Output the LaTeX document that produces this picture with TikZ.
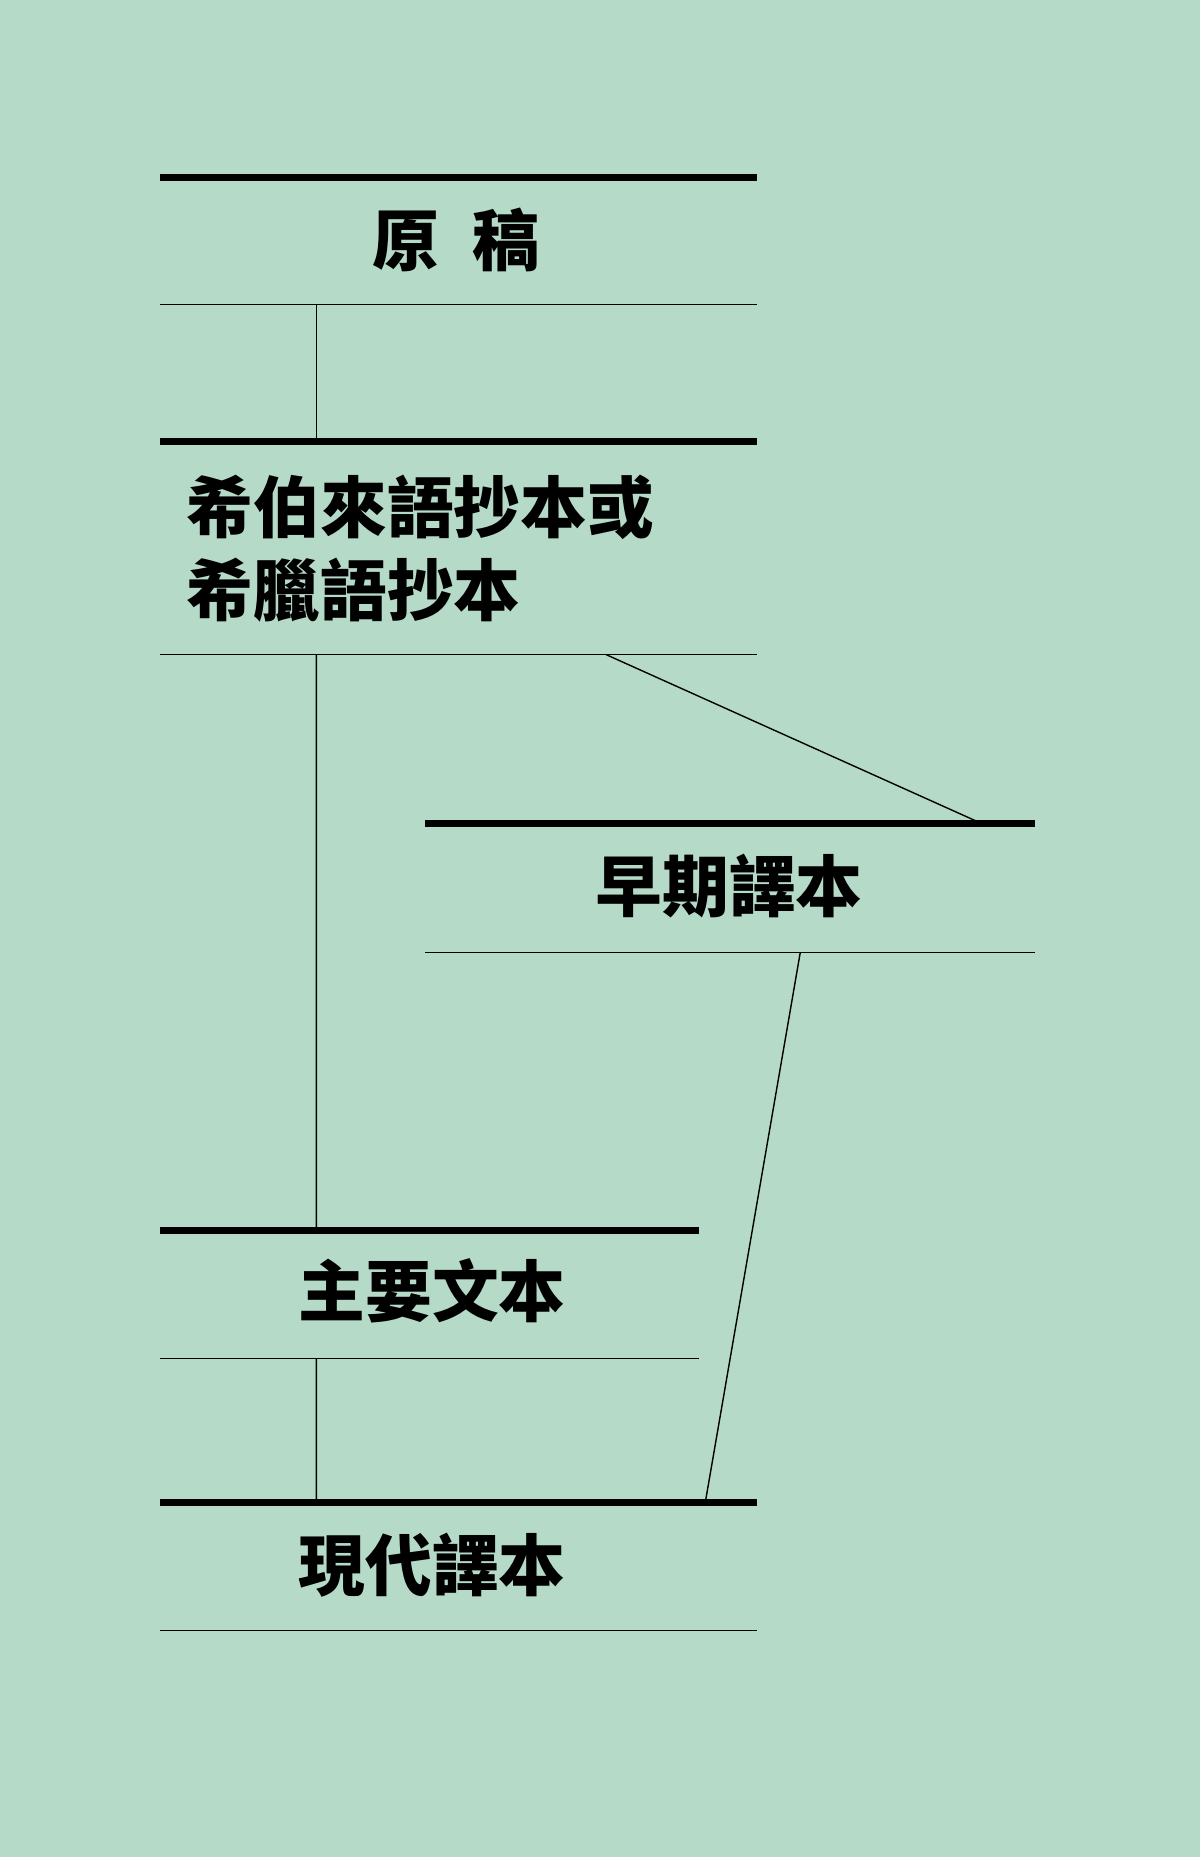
\documentclass[tikz,border=0pt]{standalone}
\usepackage{fontspec}
\usepackage{tikz}
\usetikzlibrary{calc}
\newfontfamily\cjk{Noto Sans CJK TC}
\definecolor{paper}{RGB}{181,219,200}

\begin{document}
\begin{tikzpicture}[x=1cm, y=-1cm,
    frame/.style ={rectangle, inner sep=0pt, minimum width=5.95cm},
    label/.style ={inner sep=0pt, font=\cjk\bfseries\fontsize{19pt}{23.6pt}\selectfont},
    bar/.style ={line width=2pt},
    rule/.style ={line width=0.4pt},
    link/.style ={line width=0.4pt}]
   \fill[paper] (0,0) rectangle (12,18.57);
   \useasboundingbox (0,0) rectangle (12,18.57);

   \node[frame, minimum height=1.26cm] (A) at (4.585,2.41)  {};
   \node[frame, minimum height=2.12cm] (B) at (4.585,5.48)  {};
   \node[frame, minimum height=1.27cm, minimum width=6.08cm] (C) at (7.30,8.88)  {};
   \node[frame, minimum height=1.27cm, minimum width=5.37cm] (D) at (4.295,12.945)  {};
   \node[frame, minimum height=1.27cm] (E) at (4.585,15.665)  {};

   \node[label] (tA) at (4.555,2.395) {原\hspace{0.5em}稿};
   \node[label, align=left, anchor=west] (tB) at (1.86,5.485) {希伯來語抄本或\\希臘語抄本};
   \node[label] (tC) at (7.29,8.865) {早期譯本};
   \node[label] (tD) at (4.32,12.91) {主要文本};
   \node[label] (tE) at (4.32,15.65) {現代譯本};

   \foreach \f in {A,B,C,D,E} {
     \draw[bar] (\f.north west) to (\f.north east);
     \draw[rule] (\f.south west) to (\f.south east);
   }

   \draw[link] ($(A.south west)+(1.56,0)$) to ($(B.north west)+(1.56,0)$);
   \draw[link] ($(B.south west)+(1.56,0)$) to ($(D.north west)+(1.56,0)$);
   \draw[link] ($(B.south west)+(4.46,0)$) to ($(C.north west)+(5.57,0)$);
   \draw[link] ($(C.south west)+(3.75,0)$) to ($(E.north west)+(5.45,0)$);
   \draw[link] ($(D.south west)+(1.56,0)$) to ($(E.north west)+(1.56,0)$);
 \end{tikzpicture}
\end{document}
